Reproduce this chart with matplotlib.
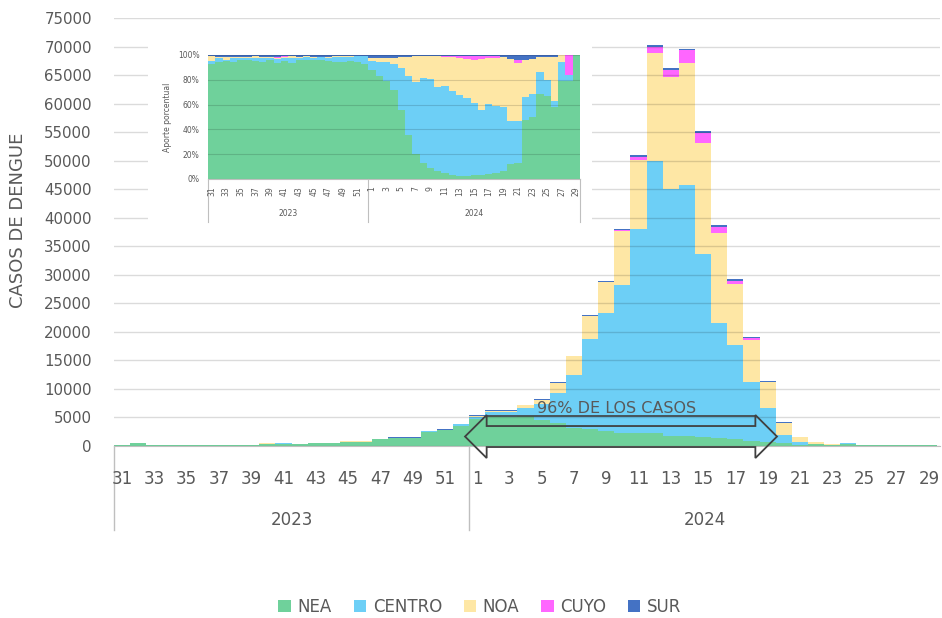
import numpy as np
import matplotlib.pyplot as plt
from matplotlib.patches import Patch, Polygon, Rectangle
from matplotlib.transforms import blended_transform_factory

plt.rcParams['font.family'] = ['DejaVu Sans']

# epidemiological weeks: 2023 w31-52, 2024 w1-29
weeks = list(range(31, 53)) + list(range(1, 30))
years = ["2023", "2024"]
n2023 = 22

regions = ["NEA", "CENTRO", "NOA", "CUYO", "SUR"]
nea = [185, 560, 190, 235, 240, 240, 238, 235, 240, 420, 430, 280, 480, 480, 770, 770,
       1150, 1420, 1420, 2480, 2750, 3550,
       4700, 5200, 5000, 5200, 4600, 4000, 3200, 3000, 2600, 2300, 2300, 2200, 1700, 1700,
       1600, 1400, 1200, 900, 700, 500, 200, 310, 150, 410, 100, 145, 158, 158, 150]
centro = [5, 20, 2, 8, 3, 3, 6, 8, 3, 15, 10, 12, 10, 12, 15, 18, 30, 60, 60, 100, 130, 230,
          400, 700, 1000, 1500, 2800, 5300, 9200, 15700, 20700, 26000, 35800, 47700, 43400,
          44000, 32100, 20200, 16500, 10350, 5900, 1500, 550, 120, 55, 110, 20, 12, 30, 10, 0]
noa = [8, 5, 5, 2, 2, 2, 3, 3, 3, 5, 3, 5, 3, 3, 5, 4, 8, 8, 8, 8, 8, 8,
       100, 200, 200, 400, 700, 1700, 3300, 4100, 5500, 9400, 11960, 18900, 19500, 21500,
       19400, 15650, 10700, 7400, 4600, 2100, 750, 195, 85, 70, 27, 88, 12, 0, 0]
cuyo = [0, 0, 0, 0, 0, 0, 0, 0, 0, 2, 5, 0, 0, 0, 0, 0, 0, 0, 0, 0, 0, 0,
        0, 0, 0, 0, 0, 0, 0, 0, 0, 100, 580, 1100, 1300, 2150, 1750, 1100, 500, 300, 50,
        0, 30, 0, 0, 0, 0, 0, 0, 32, 0]
sur = [2, 10, 3, 5, 5, 5, 3, 4, 4, 8, 2, 3, 8, 6, 12, 10, 18, 18, 18, 25, 25, 30,
       150, 150, 150, 150, 150, 150, 150, 150, 150, 200, 400, 300, 350, 300, 350, 300, 300,
       200, 150, 150, 70, 25, 10, 10, 3, 5, 0, 0, 0]

colors = ["#6fd19b", "#6dcff6", "#fee7a5", "#ff66ff", "#4472c4"]
GRAY = "#595959"

W, H = 942, 618


def box(x0, y0, x1, y1):
    return [x0 / W, 1 - y1 / H, (x1 - x0) / W, (y1 - y0) / H]


fig = plt.figure(figsize=(W / 100, H / 100), dpi=100)
ax = fig.add_axes(box(114, 18, 940, 446))

x = np.arange(len(weeks))
data = np.array([nea, centro, noa, cuyo, sur], dtype=float)
bottom = np.zeros(len(weeks))
for vals, c in zip(data, colors):
    ax.bar(x, vals, width=1.0, bottom=bottom, color=c, linewidth=0, zorder=2)
    bottom += vals

ax.set_xlim(-0.5, 50.68)
ax.set_ylim(0, 75000)
ax.set_yticks(range(0, 75001, 5000))
ax.set_axisbelow(False)
ax.yaxis.grid(True, color="k", alpha=0.14, lw=1, zorder=3)
for s in ["top", "right", "left"]:
    ax.spines[s].set_visible(False)
ax.spines["bottom"].set_color("#bfbfbf")
ax.spines["bottom"].set_zorder(4)
ax.tick_params(axis="y", length=0, pad=16, labelsize=10.8, labelcolor=GRAY)
ax.tick_params(axis="x", length=0, pad=17, labelsize=12, labelcolor=GRAY)
ax.set_xticks(x[::2])
ax.set_xticklabels([str(weeks[i]) for i in x[::2]])

fig.text(18 / W, 1 - 220 / H, "CASOS DE DENGUE", rotation=90, ha="center", va="center",
         fontsize=13, color=GRAY)

# year group labels and separators
tr = blended_transform_factory(ax.transData, fig.transFigure)
for xs in [-0.5, n2023 - 0.5]:
    ax.plot([xs, xs], [1 - 446 / H, 1 - 530 / H], transform=tr, color="#bfbfbf", lw=1,
            clip_on=False)
ax.text((-0.5 + n2023 - 0.5) / 2, 1 - 520 / H, years[0], transform=tr, ha="center",
        va="center", fontsize=12, color=GRAY)
ax.text((n2023 - 0.5 + 50.68) / 2, 1 - 520 / H, years[1], transform=tr, ha="center",
        va="center", fontsize=12, color=GRAY)

# hollow double arrow "96% de los casos"
x0, x1, hl = 21.25, 40.58, 1.34
cy, hh, sh = 1660, 3770, 1840
pts = [(x0, cy), (x0 + hl, cy + hh), (x0 + hl, cy + sh), (x1 - hl, cy + sh),
       (x1 - hl, cy + hh), (x1, cy), (x1 - hl, cy - hh), (x1 - hl, cy - sh),
       (x0 + hl, cy - sh), (x0 + hl, cy - hh)]
ax.add_patch(Polygon(pts, closed=True, fill=False, edgecolor="#404040", lw=1.3,
                     clip_on=False, zorder=5))
ax.plot([x0 + hl, x1 - hl], [cy + hh - 150, cy + hh - 150], color="#404040", lw=1.2,
        zorder=5)
ax.text(30.66, 6650, "96% DE LOS CASOS", ha="center", va="center", fontsize=11.5,
        color=GRAY, zorder=6)

# legend
handles = [Patch(facecolor=c, edgecolor="none") for c in colors]
fig.legend(handles, regions, loc="center", bbox_to_anchor=(480 / W, 1 - 607 / H), ncol=5,
           frameon=False, fontsize=12, handlelength=0.75, handleheight=0.75,
           columnspacing=1.3, handletextpad=0.4, labelcolor=GRAY)

# inset: percentage contribution
fig.patches.append(Rectangle((148 / W, 1 - 228 / H), (592 - 148) / W, (228 - 38) / H,
                             transform=fig.transFigure, facecolor="white",
                             edgecolor="none", zorder=1))
ins = fig.add_axes(box(208, 55, 580, 179), zorder=2)
share = data / data.sum(axis=0)
bottom = np.zeros(len(weeks))
for vals, c in zip(share, colors):
    ins.bar(x, vals, width=1.0, bottom=bottom, color=c, linewidth=0, zorder=2)
    bottom += vals
ins.set_xlim(-0.5, len(weeks) - 0.5)
ins.set_ylim(0, 1)
ins.set_yticks(np.linspace(0, 1, 6))
ins.set_yticklabels([f"{int(v * 100)}%" for v in np.linspace(0, 1, 6)])
ins.set_axisbelow(False)
ins.yaxis.grid(True, color="k", alpha=0.14, lw=0.8, zorder=3)
for s in ["top", "right", "left"]:
    ins.spines[s].set_visible(False)
ins.spines["bottom"].set_color("#bfbfbf")
ins.tick_params(axis="y", length=0, pad=6, labelsize=5.5, labelcolor=GRAY)
ins.tick_params(axis="x", length=0, pad=5, labelsize=5.5, labelcolor=GRAY)
ins.set_xticks(x[::2])
ins.set_xticklabels([str(weeks[i]) for i in x[::2]], rotation=90)
ins.set_ylabel("Aporte porcentual", fontsize=5.5, color=GRAY, labelpad=4)
tri = blended_transform_factory(ins.transData, fig.transFigure)
for xs in [-0.5, n2023 - 0.5, len(weeks) - 0.5]:
    ins.plot([xs, xs], [1 - 179 / H, 1 - 222 / H], transform=tri, color="#bfbfbf", lw=0.8,
             clip_on=False)
ins.text((n2023 - 1) / 2, 1 - 213 / H, years[0], transform=tri, ha="center", va="center",
         fontsize=5.5, color=GRAY)
ins.text((n2023 - 0.5 + len(weeks) - 0.5) / 2, 1 - 213 / H, years[1], transform=tri,
         ha="center", va="center", fontsize=5.5, color=GRAY)

fig.savefig("out.png", dpi=100)
